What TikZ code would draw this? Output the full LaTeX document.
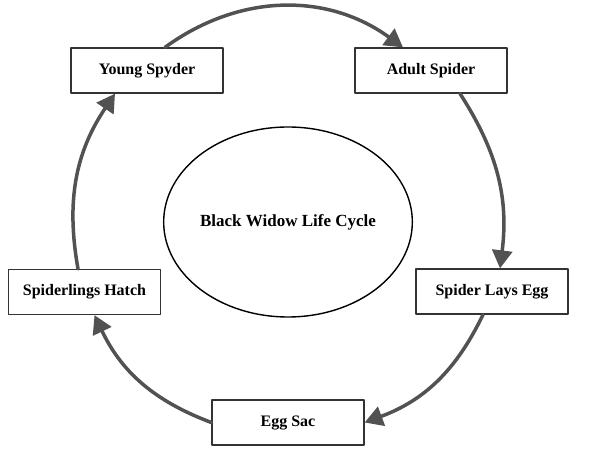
\documentclass[tikz,border=0pt]{standalone}
\usepackage{fontspec}
\setmainfont{Liberation Serif}
\usepackage{tikz}
\usetikzlibrary{arrows.meta,shapes.geometric}

\begin{document}
\begin{tikzpicture}[
						x=1pt, y=1pt,
						every node/.style={font=\fontsize{16}{18}\selectfont\bfseries},
						stage/.style={draw=black!80, line width=1.3pt, minimum width=152pt, minimum height=45pt, inner sep=0pt},
						cycle/.style={-{Triangle[length=18pt, width=20pt]}, draw=black!68, line width=3.5pt},
						line cap=round,
						line join=round
						]
						
						\useasboundingbox (0,0) rectangle (598,457);
						
						\node[draw=black, line width=1.4pt, ellipse, minimum width=246pt, minimum height=190pt, inner sep=0pt] (title) at (288,235) {\fontsize{17}{18}\selectfont Black Widow Life Cycle};
						
						\node[stage] (young) at (147,386.5) {Young Spyder};
						\node[stage] (adult) at (431,386.5) {Adult Spider};
						\node[stage] (lays) at (492,165.5) {Spider Lays Egg};
						\node[stage] (sac) at (288,34.5) {Egg Sac};
						\node[stage] (hatch) at (84.5,165) {Spiderlings Hatch};
						
						% arrows round the cycle
						\draw[cycle] ([xshift=18pt]young.north) to[bend left=36] ([xshift=-28pt]adult.north);
						\draw[cycle] ([xshift=29pt]adult.south) to[bend left=20] ([xshift=8pt]lays.north);
						\draw[cycle] ([xshift=-9pt]lays.south) to[bend left=22] (sac.east);
						\draw[cycle] (sac.west) to[bend left=22] ([xshift=10pt]hatch.south);
						\draw[cycle] ([xshift=-6.5pt]hatch.north) to[bend left=22] ([xshift=-32pt]young.south);
						
					\end{tikzpicture}
\end{document}
